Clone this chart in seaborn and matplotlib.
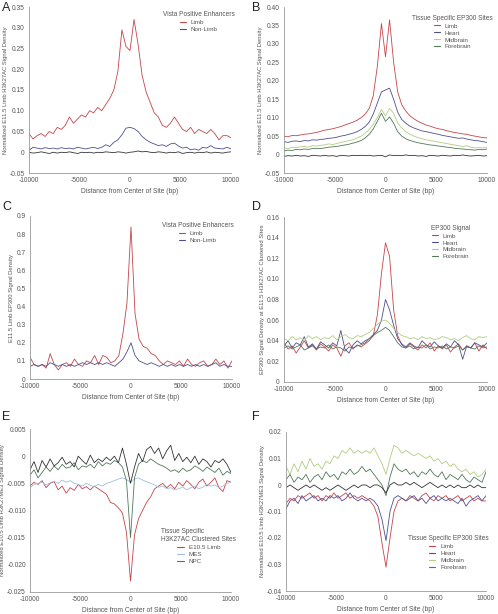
import numpy as np
import pandas as pd
import matplotlib
matplotlib.use('Agg')
import matplotlib.pyplot as plt
import seaborn as sns

# positions (bp) shared by every profile, one value every 400 bp
pos = np.arange(-10000, 10001, 400)
xticks = [-10000, -5000, 0, 5000, 10000]
xlabel = 'Distance from Center of Site (bp)'

# colours
RED = '#c4454a'
NAVY = '#4d4f8c'
LGREEN = '#b2cc80'
DGREEN = '#52775a'
BLACK = '#333333'
LBLUE = '#9fbfe0'

# ---- panel A
A_limb = [0.045, 0.032, 0.040, 0.045, 0.038, 0.050, 0.045, 0.060, 0.055, 0.065,
          0.085, 0.070, 0.080, 0.090, 0.085, 0.100, 0.095, 0.108, 0.100, 0.115,
          0.130, 0.150, 0.195, 0.295, 0.255, 0.245, 0.320, 0.260, 0.185, 0.145,
          0.120, 0.095, 0.085, 0.065, 0.060, 0.070, 0.085, 0.070, 0.055, 0.050,
          0.060, 0.045, 0.055, 0.050, 0.045, 0.055, 0.045, 0.030, 0.040, 0.040,
          0.035]
A_nonlimb = [0.005, 0.012, 0.010, 0.008, 0.011, 0.009, 0.010, 0.008, 0.011, 0.009,
             0.010, 0.008, 0.012, 0.010, 0.008, 0.010, 0.012, 0.009, 0.012, 0.018,
             0.014, 0.024, 0.030, 0.042, 0.058, 0.060, 0.057, 0.050, 0.038, 0.030,
             0.024, 0.020, 0.016, 0.018, 0.014, 0.020, 0.022, 0.015, 0.010, 0.012,
             0.006, 0.008, 0.005, 0.012, 0.010, 0.016, 0.010, 0.009, 0.008, 0.012,
             0.008]
A_ctrl = [0.000, -0.002, -0.001, 0.001, -0.001, -0.003, 0.000, -0.002, 0.000, -0.001,
          0.001, -0.001, -0.003, 0.000, -0.001, 0.000, -0.002, 0.000, -0.001, 0.001,
          0.000, -0.001, 0.001, 0.000, -0.002, 0.000, 0.001, 0.003, 0.001, 0.002,
          0.000, -0.001, 0.001, 0.000, -0.002, 0.000, -0.001, 0.001, -0.003, -0.001,
          0.000, -0.002, 0.000, -0.001, 0.001, -0.002, 0.000, -0.001, -0.002, 0.000,
          0.001]

# ---- panel B
B_limb = [0.050, 0.048, 0.052, 0.051, 0.053, 0.055, 0.056, 0.058, 0.060, 0.063,
          0.066, 0.068, 0.070, 0.073, 0.076, 0.080, 0.084, 0.088, 0.093, 0.100,
          0.110, 0.125, 0.160, 0.240, 0.355, 0.265, 0.365, 0.250, 0.170, 0.135,
          0.118, 0.105, 0.097, 0.090, 0.085, 0.080, 0.077, 0.073, 0.070, 0.068,
          0.065, 0.062, 0.060, 0.058, 0.056, 0.055, 0.052, 0.050, 0.048, 0.046,
          0.045]
B_heart = [0.035, 0.033, 0.036, 0.037, 0.035, 0.038, 0.037, 0.040, 0.039, 0.041,
           0.042, 0.044, 0.045, 0.047, 0.050, 0.052, 0.055, 0.058, 0.062, 0.068,
           0.076, 0.088, 0.110, 0.140, 0.170, 0.175, 0.180, 0.150, 0.115, 0.095,
           0.085, 0.077, 0.072, 0.068, 0.064, 0.062, 0.060, 0.057, 0.055, 0.052,
           0.050, 0.048, 0.046, 0.044, 0.045, 0.042, 0.040, 0.038, 0.037, 0.035,
           0.033]
B_mid = [0.018, 0.016, 0.020, 0.019, 0.021, 0.022, 0.020, 0.024, 0.023, 0.025,
         0.026, 0.029, 0.027, 0.030, 0.033, 0.035, 0.038, 0.040, 0.045, 0.050,
         0.058, 0.068, 0.082, 0.100, 0.122, 0.105, 0.125, 0.112, 0.085, 0.072,
         0.062, 0.055, 0.050, 0.046, 0.043, 0.040, 0.038, 0.036, 0.034, 0.032,
         0.030, 0.028, 0.026, 0.024, 0.022, 0.024, 0.020, 0.018, 0.019, 0.018,
         0.020]
B_fore = [0.010, 0.012, 0.011, 0.014, 0.013, 0.015, 0.014, 0.016, 0.017, 0.016,
          0.018, 0.020, 0.021, 0.022, 0.024, 0.026, 0.028, 0.031, 0.034, 0.038,
          0.045, 0.055, 0.070, 0.090, 0.112, 0.090, 0.102, 0.085, 0.062, 0.050,
          0.043, 0.038, 0.035, 0.032, 0.030, 0.028, 0.026, 0.025, 0.023, 0.022,
          0.020, 0.019, 0.017, 0.016, 0.015, 0.014, 0.013, 0.012, 0.014, 0.013,
          0.015]
B_ctrl = [-0.005, -0.003, -0.004, -0.002, -0.004, -0.003, -0.005, -0.002, -0.003, -0.004,
          -0.002, -0.004, -0.003, -0.005, -0.002, -0.003, -0.004, -0.002, -0.003, -0.002,
          -0.003, -0.002, -0.004, -0.003, -0.002, -0.006, -0.001, -0.003, -0.002, -0.003,
          -0.001, -0.003, -0.002, -0.004, -0.003, -0.005, -0.002, -0.003, -0.004, -0.002,
          -0.003, -0.004, -0.002, -0.003, -0.001, -0.003, -0.004, -0.003, -0.002, -0.004,
          -0.003]

# ---- panel C
C_limb = [0.12, 0.08, 0.07, 0.08, 0.06, 0.14, 0.08, 0.05, 0.08, 0.09,
          0.07, 0.11, 0.08, 0.07, 0.10, 0.09, 0.13, 0.08, 0.13, 0.12,
          0.09, 0.10, 0.13, 0.25, 0.42, 0.84, 0.36, 0.22, 0.18, 0.17,
          0.14, 0.13, 0.10, 0.08, 0.10, 0.09, 0.08, 0.10, 0.07, 0.11,
          0.08, 0.07, 0.09, 0.10, 0.07, 0.08, 0.11, 0.08, 0.10, 0.06,
          0.10]
C_nonlimb = [0.07, 0.08, 0.07, 0.08, 0.07, 0.09, 0.08, 0.07, 0.08, 0.07,
             0.08, 0.07, 0.08, 0.09, 0.08, 0.09, 0.08, 0.09, 0.08, 0.09,
             0.08, 0.07, 0.09, 0.11, 0.15, 0.20, 0.13, 0.10, 0.09, 0.08,
             0.09, 0.08, 0.07, 0.08, 0.07, 0.08, 0.07, 0.08, 0.07, 0.08,
             0.07, 0.08, 0.07, 0.08, 0.07, 0.08, 0.09, 0.07, 0.08, 0.07,
             0.07]

# ---- panel D
D_limb = [0.038, 0.032, 0.035, 0.028, 0.034, 0.040, 0.033, 0.036, 0.031, 0.037,
          0.034, 0.030, 0.036, 0.033, 0.025, 0.035, 0.038, 0.032, 0.036, 0.034,
          0.037, 0.040, 0.045, 0.065, 0.105, 0.135, 0.122, 0.070, 0.045, 0.036,
          0.033, 0.037, 0.034, 0.031, 0.036, 0.033, 0.038, 0.030, 0.035, 0.032,
          0.036, 0.029, 0.034, 0.037, 0.031, 0.035, 0.033, 0.038, 0.030, 0.036,
          0.032]
D_heart = [0.035, 0.040, 0.033, 0.038, 0.036, 0.044, 0.034, 0.037, 0.032, 0.039,
           0.036, 0.033, 0.038, 0.035, 0.050, 0.032, 0.028, 0.036, 0.040, 0.037,
           0.040, 0.042, 0.046, 0.050, 0.060, 0.080, 0.070, 0.055, 0.042, 0.037,
           0.034, 0.038, 0.035, 0.033, 0.040, 0.036, 0.034, 0.039, 0.035, 0.033,
           0.037, 0.034, 0.040, 0.036, 0.022, 0.035, 0.033, 0.038, 0.036, 0.034,
           0.038]
D_mid = [0.042, 0.040, 0.044, 0.041, 0.043, 0.040, 0.045, 0.042, 0.044, 0.041,
         0.043, 0.042, 0.045, 0.041, 0.044, 0.046, 0.043, 0.042, 0.045, 0.044,
         0.046, 0.048, 0.052, 0.056, 0.059, 0.060, 0.057, 0.052, 0.048, 0.045,
         0.044, 0.042, 0.043, 0.041, 0.044, 0.042, 0.043, 0.041, 0.042, 0.044,
         0.043, 0.041, 0.042, 0.040, 0.043, 0.045, 0.042, 0.041, 0.044, 0.043,
         0.044]
D_fore = [0.033, 0.035, 0.032, 0.034, 0.036, 0.031, 0.033, 0.035, 0.032, 0.034,
          0.033, 0.036, 0.032, 0.034, 0.033, 0.030, 0.034, 0.033, 0.035, 0.036,
          0.038, 0.042, 0.045, 0.048, 0.050, 0.053, 0.050, 0.044, 0.038, 0.034,
          0.033, 0.035, 0.032, 0.034, 0.033, 0.036, 0.032, 0.034, 0.033, 0.035,
          0.032, 0.034, 0.033, 0.035, 0.031, 0.034, 0.033, 0.032, 0.035, 0.033,
          0.034]

# ---- panel E
E_limb = [-0.0055, -0.0048, -0.0052, -0.0045, -0.0058, -0.0050, -0.0047, -0.0062, -0.0055, -0.0068,
          -0.0058, -0.0063, -0.0052, -0.0060, -0.0056, -0.0062, -0.0055, -0.0060, -0.0065, -0.0070,
          -0.0085, -0.0088, -0.0095, -0.0105, -0.0140, -0.0230, -0.0145, -0.0115, -0.0100, -0.0085,
          -0.0075, -0.0060, -0.0055, -0.0050, -0.0058, -0.0052, -0.0060, -0.0048, -0.0055, -0.0045,
          -0.0052, -0.0060, -0.0048, -0.0042, -0.0055, -0.0048, -0.0040, -0.0058, -0.0065, -0.0045,
          -0.0048]
E_mes = [-0.0058, -0.0052, -0.0050, -0.0048, -0.0053, -0.0049, -0.0046, -0.0050, -0.0044, -0.0048,
         -0.0045, -0.0050, -0.0052, -0.0055, -0.0050, -0.0054, -0.0056, -0.0052, -0.0055, -0.0050,
         -0.0048, -0.0045, -0.0042, -0.0040, -0.0043, -0.0048, -0.0042, -0.0040, -0.0044, -0.0047,
         -0.0050, -0.0053, -0.0057, -0.0055, -0.0060, -0.0058, -0.0062, -0.0060, -0.0057, -0.0062,
         -0.0058, -0.0055, -0.0060, -0.0057, -0.0052, -0.0055, -0.0053, -0.0058, -0.0055, -0.0050,
         -0.0048]
E_npc = [-0.0035, -0.0025, -0.0040, -0.0030, -0.0020, -0.0028, -0.0018, -0.0025, -0.0015, -0.0022,
         -0.0020, -0.0012, -0.0025, -0.0018, -0.0020, -0.0015, -0.0022, -0.0010, -0.0018, -0.0012,
         -0.0015, -0.0008, -0.0012, -0.0020, -0.0045, -0.0150, -0.0040, -0.0015, -0.0008, -0.0012,
         -0.0005, -0.0010, -0.0015, -0.0018, -0.0022, -0.0028, -0.0025, -0.0030, -0.0022, -0.0028,
         -0.0025, -0.0018, -0.0022, -0.0028, -0.0020, -0.0025, -0.0030, -0.0022, -0.0035, -0.0028,
         -0.0032]
E_ctrl = [-0.0025, -0.0010, -0.0030, -0.0008, -0.0020, -0.0005, -0.0018, -0.0012, -0.0002, -0.0015,
          -0.0010, -0.0020, 0.0000, -0.0008, -0.0015, 0.0002, -0.0012, -0.0005, -0.0010, -0.0002,
          -0.0008, 0.0000, -0.0012, 0.0015, -0.0015, -0.0050, -0.0020, 0.0005, -0.0010, 0.0012,
          0.0018, 0.0005, 0.0015, -0.0005, 0.0010, 0.0020, -0.0008, 0.0005, -0.0010, -0.0002,
          -0.0012, 0.0000, -0.0015, -0.0005, -0.0010, -0.0020, -0.0008, -0.0012, -0.0005, -0.0015,
          -0.0030]

# ---- panel F
F_mid = [0.007, 0.004, 0.008, 0.005, 0.009, 0.006, 0.010, 0.007, 0.008, 0.006,
         0.009, 0.008, 0.011, 0.010, 0.013, 0.012, 0.014, 0.012, 0.013, 0.012,
         0.013, 0.012, 0.014, 0.011, 0.008, 0.004, 0.010, 0.015, 0.014, 0.012,
         0.013, 0.012, 0.011, 0.012, 0.011, 0.010, 0.011, 0.009, 0.010, 0.008,
         0.009, 0.007, 0.008, 0.006, 0.005, 0.006, 0.004, 0.005, 0.003, 0.004,
         0.006]
F_fore = [0.002, 0.004, 0.001, 0.003, 0.002, 0.004, 0.001, 0.003, 0.004, 0.002,
          0.005, 0.003, 0.004, 0.002, 0.005, 0.004, 0.006, 0.004, 0.005, 0.007,
          0.005, 0.006, 0.004, 0.002, 0.000, -0.004, 0.003, 0.008, 0.006, 0.005,
          0.006, 0.004, 0.005, 0.003, 0.005, 0.004, 0.006, 0.004, 0.003, 0.005,
          0.002, 0.004, 0.003, 0.002, 0.004, 0.002, 0.001, 0.003, 0.002, 0.001,
          0.005]
F_ctrl = [-0.001, 0.000, -0.001, -0.002, -0.001, 0.000, -0.001, 0.000, -0.001, -0.002,
          -0.001, -0.002, -0.001, 0.000, -0.001, -0.002, -0.001, 0.000, -0.001, 0.000,
          0.000, -0.001, 0.000, 0.000, -0.001, -0.003, 0.000, 0.001, 0.000, 0.000,
          0.001, 0.000, 0.001, 0.000, -0.001, 0.000, 0.001, 0.000, -0.001, 0.000,
          -0.001, 0.000, -0.001, 0.000, -0.001, -0.001, 0.000, -0.001, 0.000, -0.001,
          -0.001]
F_limb = [-0.007, -0.005, -0.006, -0.004, -0.005, -0.004, -0.003, -0.005, -0.004, -0.006,
          -0.004, -0.005, -0.003, -0.005, -0.004, -0.003, -0.005, -0.004, -0.005, -0.004,
          -0.005, -0.006, -0.008, -0.012, -0.022, -0.031, -0.020, -0.010, -0.006, -0.005,
          -0.006, -0.004, -0.005, -0.006, -0.004, -0.003, -0.005, -0.006, -0.004, -0.005,
          -0.004, -0.006, -0.005, -0.004, -0.006, -0.005, -0.004, -0.006, -0.005, -0.006,
          -0.006]
F_heart = [-0.009, -0.006, -0.005, -0.007, -0.004, -0.006, -0.005, -0.004, -0.006, -0.005,
           -0.006, -0.004, -0.005, -0.004, -0.006, -0.005, -0.003, -0.005, -0.006, -0.005,
           -0.006, -0.005, -0.006, -0.008, -0.013, -0.021, -0.010, -0.005, -0.004, -0.005,
           -0.006, -0.005, -0.004, -0.006, -0.005, -0.007, -0.005, -0.004, -0.006, -0.005,
           -0.006, -0.005, -0.006, -0.007, -0.005, -0.008, -0.006, -0.005, -0.004, -0.006,
           -0.004]

sns.set_style('white')
plt.rcParams['font.family'] = ['Liberation Sans', 'DejaVu Sans']
TXT = '#555555'
FS = 4.8

fig = plt.figure(figsize=(4.98, 6.14), dpi=100)
W, H = 498, 614


def make_ax(left, right, top, bottom):
    # pixel box -> figure fraction
    return fig.add_axes([left / W, 1 - bottom / H, (right - left) / W, (bottom - top) / H])


def style(ax, ylim, yticks, ylabels, ylabel, letter, lx, ly):
    ax.set_xlim(-10000, 10000)
    ax.set_ylim(*ylim)
    ax.set_xticks(xticks)
    ax.set_xticklabels([str(t) for t in xticks])
    ax.set_yticks(yticks)
    ax.set_yticklabels(ylabels)
    ax.tick_params(labelsize=FS, colors=TXT, length=1.5, width=0.5, pad=1.5)
    for s in ['top', 'right']:
        ax.spines[s].set_visible(False)
    for s in ['left', 'bottom']:
        ax.spines[s].set_color('#999999')
        ax.spines[s].set_linewidth(0.6)
    ax.set_xlabel(xlabel, fontsize=FS, color=TXT, labelpad=3)
    ax.set_ylabel(ylabel, fontsize=4.2, color=TXT, labelpad=1.5)
    fig.text(lx / W, 1 - ly / H, letter, fontsize=9, color='#222222', va='center', ha='left')


def draw(ax, series):
    for vals, col, name in series:
        sns.lineplot(x=pos, y=vals, ax=ax, color=col, lw=0.6, label=name)


def legend(ax, title, cx, ty):
    leg = ax.legend(loc='upper center', bbox_to_anchor=(cx, ty), frameon=False,
                    title=title, fontsize=4.5, title_fontsize=4.7, handlelength=1.0,
                    handletextpad=0.8, labelspacing=0.25, borderpad=0.2)
    for t in leg.get_texts():
        t.set_color(TXT)
    leg.get_title().set_color(TXT)
    for h in leg.get_lines():
        h.set_linewidth(0.8)


# A
ax = make_ax(29, 231, 7, 173)
draw(ax, [(A_limb, RED, 'Limb'), (A_nonlimb, NAVY, 'Non-Limb'), (A_ctrl, BLACK, None)])
style(ax, (-0.05, 0.35), [-0.05, 0, 0.05, 0.10, 0.15, 0.20, 0.25, 0.30, 0.35],
      ['-0.05', '0', '0.05', '0.10', '0.15', '0.20', '0.25', '0.30', '0.35'],
      'Normalized E11.5 Limb H3K27AC Signal Density', 'A', 2, 8)
legend(ax, 'Vista Positive Enhancers', 0.84, 1.0)

# B
ax = make_ax(284, 487, 7, 173)
draw(ax, [(B_limb, RED, 'Limb'), (B_heart, NAVY, 'Heart'), (B_mid, LGREEN, 'Midbrain'),
          (B_fore, DGREEN, 'Forebrain'), (B_ctrl, BLACK, None)])
style(ax, (-0.05, 0.40), [-0.05, 0, 0.05, 0.10, 0.15, 0.20, 0.25, 0.30, 0.35, 0.40],
      ['-0.05', '0', '0.05', '0.10', '0.15', '0.20', '0.25', '0.30', '0.35', '0.40'],
      'Normalized E11.5 Limb H3K27AC Signal Density', 'B', 252, 8)
legend(ax, 'Tissue Specific EP300 Sites', 0.83, 0.98)

# C
ax = make_ax(30, 232, 216, 379)
draw(ax, [(C_limb, RED, 'Limb'), (C_nonlimb, NAVY, 'Non-Limb')])
style(ax, (0, 0.9), [0, 0.1, 0.2, 0.3, 0.4, 0.5, 0.6, 0.7, 0.8, 0.9],
      ['0', '0.1', '0.2', '0.3', '0.4', '0.5', '0.6', '0.7', '0.8', '0.9'],
      'E11.5 Limb EP300 Signal Density', 'C', 2, 207)
legend(ax, 'Vista Positive Enhancers', 0.83, 0.99)

# D
ax = make_ax(284, 487, 217, 382)
draw(ax, [(D_limb, RED, 'Limb'), (D_heart, NAVY, 'Heart'), (D_mid, LGREEN, 'Midbrain'),
          (D_fore, DGREEN, 'Forebrain')])
style(ax, (0, 0.16), [0, 0.02, 0.04, 0.06, 0.08, 0.10, 0.12, 0.14, 0.16],
      ['0', '0.02', '0.04', '0.06', '0.08', '0.10', '0.12', '0.14', '0.16'],
      'EP300 Signal Density at E11.5 H3K27AC Clustered Sites', 'D', 252, 207)
legend(ax, 'EP300 Signal', 0.82, 0.98)

# E
ax = make_ax(30, 231, 429, 592)
draw(ax, [(E_limb, RED, 'E10.5 Limb'), (E_mes, LBLUE, 'MES'), (E_npc, DGREEN, 'NPC'),
          (E_ctrl, BLACK, None)])
style(ax, (-0.025, 0.005), [-0.025, -0.020, -0.015, -0.010, -0.005, 0, 0.005],
      ['-0.025', '-0.020', '-0.015', '-0.010', '-0.005', '0', '0.005'],
      'Normalized E10.5 Limb H3K27ME3 Signal Density', 'E', 2, 417)
legend(ax, 'Tissue Specific\nH3K27AC Clustered Sites', 0.84, 0.42)

# F
ax = make_ax(286, 486, 432, 591)
draw(ax, [(F_limb, RED, 'Limb'), (F_heart, NAVY, 'Heart'), (F_mid, LGREEN, 'Midbrain'),
          (F_fore, DGREEN, 'Forebrain'), (F_ctrl, BLACK, None)])
style(ax, (-0.04, 0.02), [-0.04, -0.03, -0.02, -0.01, 0, 0.01, 0.02],
      ['-0.04', '-0.03', '-0.02', '-0.01', '0', '0.01', '0.02'],
      'Normalized E10.5 Limb H3K27ME3 Signal Density', 'F', 252, 417)
legend(ax, 'Tissue Specific EP300 Sites', 0.81, 0.38)

fig.savefig('out.png', dpi=100)
